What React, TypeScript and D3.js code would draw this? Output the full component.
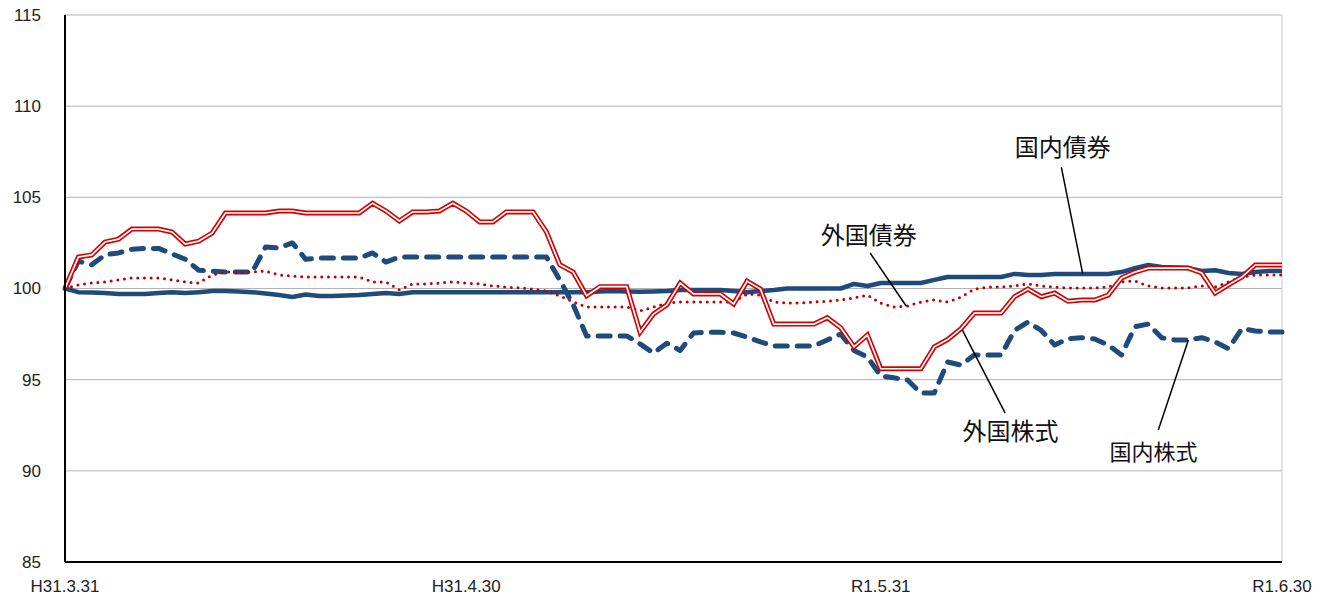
import React from 'react';
import * as d3 from 'd3';

// chart box inside the 1320x596 page
const W = 1320;
const H = 596;
const PLOT = { left: 65, right: 1282, top: 15, bottom: 562 };

const START = new Date(2019, 2, 31);
const END = new Date(2019, 5, 30);

// y axis ticks
const yTicks = [85, 90, 95, 100, 105, 110, 115];

// x axis labels (Japanese era dates)
const xTickDates = [new Date(2019, 2, 31), new Date(2019, 3, 30), new Date(2019, 4, 31), new Date(2019, 5, 30)];
const xTickLabels = ['H31.3.31', 'H31.4.30', 'R1.5.31', 'R1.6.30'];

// daily index values, 3/31 .. 6/30 (92 days)
const domesticBonds = [
  100, 99.8, 99.78, 99.75, 99.7, 99.7, 99.7, 99.75, 99.8, 99.75,
  99.8, 99.86, 99.86, 99.84, 99.8, 99.73, 99.64, 99.53, 99.67, 99.59,
  99.59, 99.62, 99.64, 99.7, 99.75, 99.7, 99.8, 99.8, 99.8, 99.8,
  99.8, 99.8, 99.8, 99.8, 99.8, 99.8, 99.8, 99.8, 99.8, 99.8,
  99.84, 99.86, 99.84, 99.82, 99.84, 99.86, 99.92, 99.92, 99.92, 99.92,
  99.86, 99.8, 99.86, 99.92, 100.0, 100.0, 100.0, 100.0, 100.0, 100.25,
  100.14, 100.3, 100.3, 100.3, 100.3, 100.47, 100.63, 100.63, 100.63, 100.63,
  100.63, 100.8, 100.74, 100.74, 100.8, 100.8, 100.8, 100.8, 100.8, 100.9,
  101.12, 101.29, 101.18, 101.15, 101.12, 100.96, 101.0, 100.85, 100.8, 100.9,
  100.96, 100.96,
];

const domesticStocks = [
  100, 101.5, 101.3, 101.85, 101.95, 102.15, 102.2, 102.2, 101.9, 101.6,
  101.0, 100.95, 100.9, 100.9, 100.9, 102.28, 102.22, 102.5, 101.6, 101.67,
  101.67, 101.67, 101.67, 101.95, 101.45, 101.73, 101.73, 101.73, 101.73, 101.73,
  101.73, 101.73, 101.73, 101.73, 101.73, 101.73, 101.73, 100.47, 99.1, 97.4,
  97.4, 97.4, 97.4, 96.96, 96.46, 97.0, 96.6, 97.56, 97.6, 97.6,
  97.56, 97.34, 97.07, 96.85, 96.85, 96.85, 96.85, 97.18, 97.5, 96.6,
  96.24, 95.2, 95.1, 94.98, 94.27, 94.27, 95.97, 95.8, 96.35, 96.35,
  96.35, 97.7, 98.16, 97.7, 96.9, 97.25, 97.3, 97.23, 96.9, 96.35,
  97.9, 98.05, 97.3, 97.18, 97.18, 97.3, 97.07, 96.7, 97.8, 97.67,
  97.62, 97.62,
];

const foreignBonds = [
  100, 100.2, 100.3, 100.36, 100.47, 100.58, 100.58, 100.58, 100.47, 100.36,
  100.3, 100.74, 100.9, 100.9, 100.9, 100.96, 100.74, 100.69, 100.63, 100.63,
  100.63, 100.63, 100.63, 100.36, 100.36, 99.92, 100.25, 100.25, 100.3, 100.36,
  100.3, 100.25, 100.14, 100.08, 100.03, 99.97, 99.86, 99.6, 99.26, 98.98,
  98.98, 98.98, 98.98, 98.77, 98.98, 99.2, 99.26, 99.26, 99.26, 99.26,
  99.26, 99.7, 99.64, 99.26, 99.2, 99.2, 99.26, 99.3, 99.37, 99.48,
  99.64, 99.2, 98.98, 99.04, 99.26, 99.37, 99.26, 99.53, 99.97, 100.08,
  100.08, 100.14, 100.25, 100.14, 100.08, 100.03, 100.03, 100.03, 100.08, 100.36,
  100.41, 100.14, 100.03, 100.03, 100.03, 100.14, 100.08, 100.36, 100.63, 100.74,
  100.74, 100.74,
];

const foreignStocks = [
  100, 101.73, 101.84, 102.55, 102.71, 103.26, 103.26, 103.26, 103.1, 102.44,
  102.6, 103.04, 104.14, 104.14, 104.14, 104.14, 104.25, 104.25, 104.14, 104.14,
  104.14, 104.14, 104.14, 104.68, 104.25, 103.7, 104.2, 104.2, 104.25, 104.68,
  104.25, 103.65, 103.65, 104.2, 104.2, 104.2, 103.1, 101.3, 100.9, 99.6,
  100.1, 100.1, 100.1, 97.6, 98.6, 99.1, 100.3, 99.7, 99.7, 99.7,
  99.15, 100.4, 99.97, 98.05, 98.05, 98.05, 98.05, 98.4, 97.85, 96.8,
  97.45, 95.6, 95.6, 95.6, 95.6, 96.8, 97.2, 97.8, 98.65, 98.65,
  98.65, 99.55, 99.97, 99.55, 99.75, 99.3, 99.37, 99.37, 99.64, 100.58,
  100.9, 101.12, 101.12, 101.12, 101.12, 100.85, 99.75, 100.2, 100.63, 101.29,
  101.29, 101.29,
];

// label text, label centre (day index, value), leader line from -> to (day index, value)
const annotations = [
  { text: '国内債券', size: 24, at: [74.6, 107.76], from: [74.5, 106.66], to: [76.1, 100.8] },
  { text: '外国債券', size: 24, at: [60.1, 102.93], from: [60.2, 101.95], to: [62.9, 99.04] },
  { text: '外国株式', size: 24, at: [70.7, 92.18], from: [67.1, 97.72], to: [70.3, 93.17] },
  { text: '国内株式', size: 22, at: [81.4, 91.03], from: [84.0, 97.18], to: [81.75, 92.24] },
];

const BLUE = '#1f4a7c';
const RED = '#d40000';
const DARK_RED = '#c00000';

export default function App() {
  const x = d3.scaleTime().domain([START, END]).range([PLOT.left, PLOT.right]);
  const y = d3.scaleLinear().domain([85, 115]).range([PLOT.bottom, PLOT.top]);
  const day = (i: number) => d3.timeDay.offset(START, 0).getTime() + i * 86400000;
  const xi = (i: number) => x(new Date(day(i)));

  const line = d3.line<number>()
    .x((_, i) => xi(i))
    .y(d => y(d));

  return (
    <div style={{ position: 'fixed', left: 0, top: 0, background: '#fff' }}>
      <svg width={W} height={H} viewBox={`0 0 ${W} ${H}`} xmlns="http://www.w3.org/2000/svg">
        <rect width={W} height={H} fill="#fff" />

        {/* grid */}
        {yTicks.filter(t => t !== 85).map(t => (
          <line key={`g-${t}`} x1={PLOT.left} x2={PLOT.right} y1={y(t)} y2={y(t)} stroke="#b3b3b3" strokeWidth={1} />
        ))}
        <line x1={PLOT.right} x2={PLOT.right} y1={PLOT.top} y2={PLOT.bottom} stroke="#c8c8c8" strokeWidth={1} />

        {/* y labels */}
        {yTicks.map(t => (
          <text key={`yt-${t}`} x={41} y={y(t)} dy="0.35em" textAnchor="end"
            fontFamily="'Liberation Sans', Arial, sans-serif" fontSize={17} fill="#222">{t}</text>
        ))}

        {/* x labels */}
        {xTickDates.map((d, i) => (
          <text key={`xt-${i}`} x={x(d)} y={586} dy="0.35em" textAnchor="middle"
            fontFamily="'Liberation Sans', Arial, sans-serif" fontSize={17} fill="#222">{xTickLabels[i]}</text>
        ))}

        {/* series */}
        <path d={line(domesticBonds) || ''} fill="none" stroke={BLUE} strokeWidth={4.5} strokeLinejoin="round" />
        <path d={line(domesticStocks) || ''} fill="none" stroke={BLUE} strokeWidth={5} strokeDasharray="12 10" strokeLinecap="round" strokeLinejoin="round" />
        <path d={line(foreignBonds) || ''} fill="none" stroke={DARK_RED} strokeWidth={3} strokeDasharray="0 6.7" strokeLinecap="round" />
        <path d={line(foreignStocks) || ''} fill="none" stroke={RED} strokeWidth={5} strokeLinejoin="miter" />
        <path d={line(foreignStocks) || ''} fill="none" stroke="#fff" strokeWidth={1.7} strokeLinejoin="miter" />

        {/* axes */}
        <line x1={PLOT.left} x2={PLOT.left} y1={PLOT.top} y2={PLOT.bottom} stroke="#000" strokeWidth={2} />
        <line x1={PLOT.left} x2={PLOT.right} y1={PLOT.bottom} y2={PLOT.bottom} stroke="#000" strokeWidth={2} />

        {/* annotations */}
        {annotations.map(a => (
          <g key={a.text}>
            <line x1={xi(a.from[0])} y1={y(a.from[1])} x2={xi(a.to[0])} y2={y(a.to[1])} stroke="#000" strokeWidth={1.5} />
            <text x={xi(a.at[0])} y={y(a.at[1])} dy="0.36em" textAnchor="middle"
              fontFamily="'Noto Sans CJK JP', sans-serif" fontSize={a.size} fill="#111">{a.text}</text>
          </g>
        ))}
      </svg>
    </div>
  );
}
